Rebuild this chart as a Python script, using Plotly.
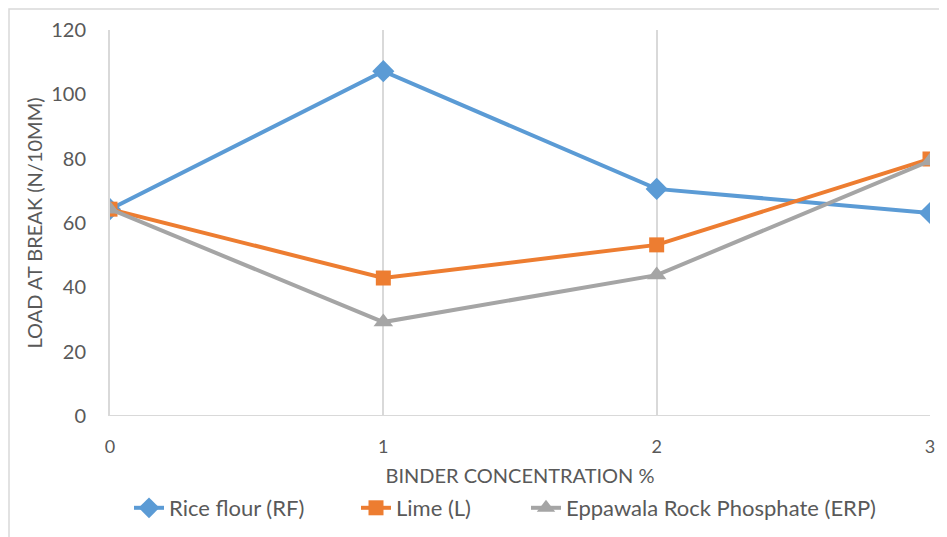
import plotly.graph_objects as go

x_vals = [0, 1, 2, 3]
rice_flour = [64.3, 107.2, 70.6, 63.1]
lime = [64.3, 42.9, 53.2, 79.9]
erp = [64.3, 29.2, 43.8, 79.3]
y_ticks = [0, 20, 40, 60, 80, 100, 120]

font_family = "Lato, Open Sans, sans-serif"
grey_txt = "#595959"
grid_col = "#D9D9D9"

fig = go.Figure()
fig.add_trace(go.Scatter(x=x_vals, y=rice_flour, name="Rice flour (RF)", mode="lines+markers",
                         line=dict(color="#5B9BD5", width=4), legend="legend",
                         marker=dict(symbol="diamond", size=17, color="#5B9BD5")))
fig.add_trace(go.Scatter(x=x_vals, y=lime, name="Lime (L)", mode="lines+markers",
                         line=dict(color="#ED7D31", width=4), legend="legend2",
                         marker=dict(symbol="square", size=15, color="#ED7D31")))
fig.add_trace(go.Scatter(x=x_vals, y=erp, name="Eppawala Rock Phosphate (ERP)", mode="lines+markers",
                         line=dict(color="#A5A5A5", width=4), legend="legend3",
                         marker=dict(symbol="triangle-up", size=17, color="#A5A5A5")))

# page has an 8px body margin; figure is sized to fit the window
W, H = 939, 529
L, R, T, B = 102, 17, 22, 121
pw, ph = W - L - R, H - T - B


def leg(px_left):
    return dict(orientation="h", xref="container", yref="container",
                x=px_left / W, xanchor="left", y=(H - 500) / H, yanchor="middle",
                bgcolor="rgba(0,0,0,0)", font=dict(size=22, color=grey_txt))


fig.update_layout(
    width=W, height=H,
    margin=dict(l=L, r=R, t=T, b=B, autoexpand=False),
    paper_bgcolor="white", plot_bgcolor="white",
    font=dict(family=font_family, color=grey_txt, size=20),
    showlegend=True,
    legend=leg(121), legend2=leg(348), legend3=leg(518),
    xaxis=dict(range=[0, 3], tickvals=x_vals, ticktext=[str(v) for v in x_vals],
               showgrid=True, gridcolor=grid_col, gridwidth=2,
               zeroline=False, showline=False, ticks="outside", ticklen=14, tickcolor="rgba(0,0,0,0)",
               title=dict(text="BINDER CONCENTRATION %", font=dict(size=20, color=grey_txt), standoff=15),
               tickfont=dict(size=18, color=grey_txt)),
    yaxis=dict(range=[0, 120], tickvals=y_ticks, showgrid=False,
               zeroline=False, showline=True, linecolor=grid_col, linewidth=2,
               ticks="outside", ticklen=18, tickcolor="rgba(0,0,0,0)",
               title=dict(text="LOAD AT BREAK (N/10MM)", font=dict(size=20, color=grey_txt), standoff=3),
               tickfont=dict(size=20, color=grey_txt)),
    shapes=[
        dict(type="line", xref="x", yref="y", x0=0, x1=3, y0=0, y1=0,
             line=dict(color=grid_col, width=2), layer="below"),
        dict(type="rect", xref="paper", yref="paper",
             x0=(1 - L) / pw, x1=(W - L + 10) / pw, y0=-(B + 10) / ph, y1=1 + (T - 1) / ph,
             line=dict(color=grid_col, width=1.5), layer="below"),
    ],
)

fig.write_html("out.html")
